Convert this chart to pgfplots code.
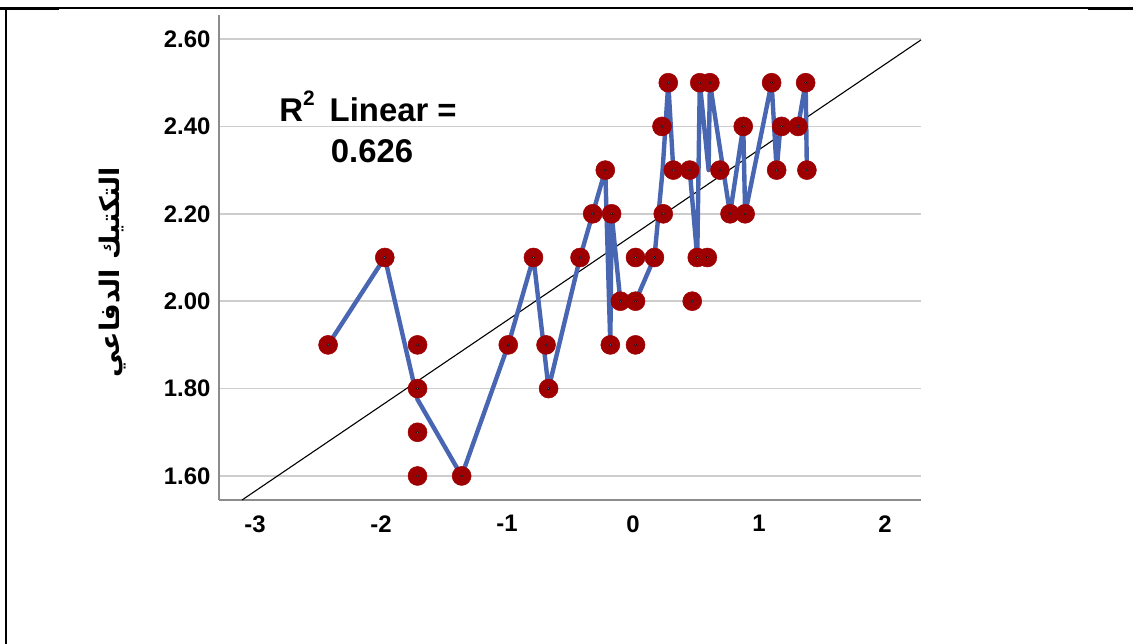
\documentclass[border=0pt]{standalone}
\usepackage{fontspec}
\setmainfont{Liberation Sans}
\newfontfamily\arabicfont[Script=Arabic]{DejaVu Sans}
\usepackage{pgfplots}
\usepackage{pgfplotstable}
\pgfplotsset{compat=1.18}
\TeXXeTstate=1

\definecolor{pointred}{RGB}{158,0,2}
\definecolor{pathblue}{RGB}{72,102,178}
\definecolor{gridgray}{RGB}{205,205,205}
\definecolor{axisgray}{RGB}{140,140,140}
\definecolor{dotblue}{RGB}{90,165,225}

% observed cases: z-score (x) and defensive tactic score (y)
\pgfplotstableread{
x y
-2.42 1.90
-1.97 2.10
-1.71 1.90
-1.71 1.80
-1.71 1.70
-1.71 1.60
-1.36 1.60
-0.99 1.90
-0.79 2.10
-0.69 1.90
-0.67 1.80
-0.42 2.10
-0.32 2.20
-0.22 2.30
-0.17 2.20
-0.18 1.90
-0.10 2.00
0.02 2.00
0.02 1.90
0.02 2.10
0.17 2.10
0.24 2.20
0.23 2.40
0.28 2.50
0.32 2.30
0.45 2.30
0.47 2.00
0.51 2.10
0.53 2.50
0.61 2.50
0.59 2.10
0.69 2.30
0.77 2.20
0.875 2.40
0.89 2.20
1.10 2.50
1.14 2.30
1.18 2.40
1.31 2.40
1.37 2.50
1.38 2.30
}\pointdata

% interpolation line through the cases, ordered by x
\pgfplotstableread{
x y
-2.42 1.90
-1.97 2.10
-1.71 1.775
-1.36 1.60
-0.99 1.90
-0.79 2.10
-0.67 1.80
-0.42 2.10
-0.32 2.20
-0.22 2.30
-0.18 1.90
-0.17 2.20
-0.10 2.00
0.02 2.00
0.17 2.10
0.235 2.30
0.28 2.50
0.32 2.30
0.45 2.30
0.51 2.10
0.53 2.50
0.60 2.30
0.61 2.50
0.77 2.20
0.875 2.40
0.89 2.20
1.10 2.50
1.14 2.30
1.17 2.40
1.31 2.40
1.37 2.50
1.38 2.30
}\pathdata

\begin{document}
\begin{tikzpicture}
\useasboundingbox (0,0) rectangle (1133bp,644bp);
\fill[white] (0,0) rectangle (1133bp,644bp);
% outer frame
\draw[line width=2bp] (6bp,0) -- (6bp,636bp) -- (1133bp,636bp);
\draw[line width=2.5bp] (0,635.5bp) -- (59bp,635.5bp);
\draw[line width=2.5bp] (1088bp,635.5bp) -- (1133bp,635.5bp);

\begin{axis}[
  at={(219bp,144bp)}, anchor=south west,
  scale only axis, width=702bp, height=485bp,
  xmin=-3.2857, xmax=2.2857, ymin=1.545, ymax=2.655,
  axis x line*=bottom, axis y line*=left,
  axis line style={axisgray, line width=2bp, -},
  xtick={-3,-2,-1,0,1,2}, xticklabels={-3,-2,-1,0,1,2},
  ytick={1.6,1.8,2.0,2.2,2.4,2.6},
  yticklabels={1.60,1.80,2.00,2.20,2.40,2.60},
  ymajorgrids, grid style={gridgray, line width=1.6bp},
  major tick length=0pt,
  tick label style={font=\bfseries\fontsize{24}{24}\selectfont},
  yticklabel style={xshift=-5bp},
  xticklabel style={yshift=-12bp},
  clip=false,
]
\addplot[only marks, mark=*, mark size=9.5bp,
  mark options={fill=pointred, draw=pointred, line width=0.5bp}] table {\pointdata};
\addplot[black, line width=1.1bp] coordinates {(-3.103,1.545) (2.2857,2.598)};
\addplot[pathblue, line width=4.4bp, line join=round] table {\pathdata};
\addplot[only marks, mark=*, mark size=1.1bp,
  mark options={fill=dotblue, draw=none}] table {\pointdata};
\end{axis}

\node[font=\bfseries\fontsize{33}{33}\selectfont, anchor=base, inner sep=0]
  at (368bp,522bp) {R\raisebox{0.5em}{\fontsize{21}{21}\selectfont 2}\hspace{15bp}Linear =};
\node[font=\bfseries\fontsize{33}{33}\selectfont, anchor=base, inner sep=0]
  at (372bp,481bp) {0.626};
\node[font=\arabicfont\bfseries\fontsize{27}{27}\selectfont, rotate=90, inner sep=0]
  at (113bp,372bp) {\beginR التكتيك الدفاعي\endR};
\end{tikzpicture}
\end{document}
